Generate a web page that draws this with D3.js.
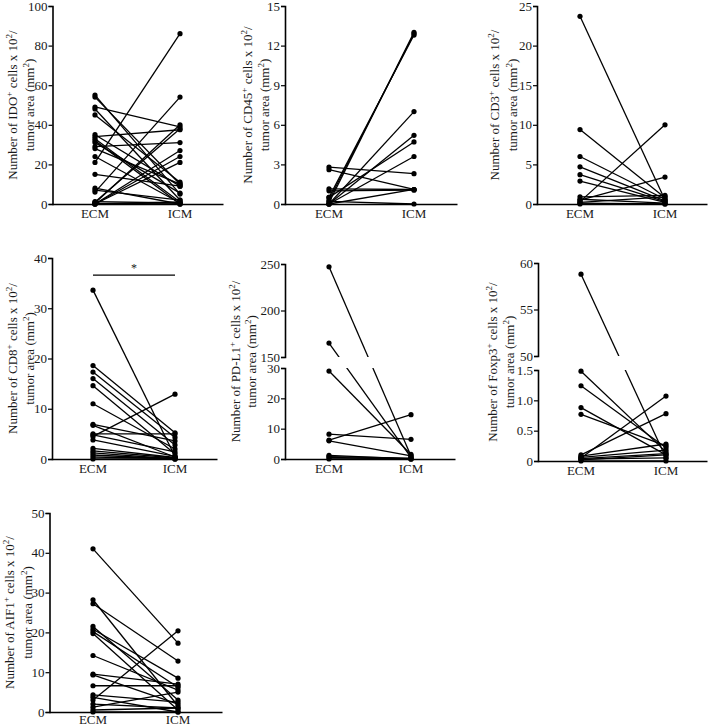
<!DOCTYPE html>
<html><head><meta charset="utf-8">
<script src="https://cdn.jsdelivr.net/npm/d3@7"></script>
<style>
body{margin:0;background:#fff;}
svg{display:block;}
text{font-family:"Liberation Serif","Times New Roman",serif;fill:#1a1a1a;}
</style></head>
<body>
<svg id="chart" width="710" height="727"></svg>
<script>
// ---------------- DATA ----------------
const categories = ["ECM", "ICM"];
const markers = ["IDO", "CD45", "CD3", "CD8", "PD-L1", "Foxp3", "AIF1"];

const idoECM = [55, 54, 49, 48, 45, 35, 34, 33, 32, 31, 29, 28, 24, 21, 15, 8, 7, 6, 1, 0.5, 0, 0, 0, 0, 1.2, 0.3];
const idoICM = [5, 10, 39, 2, 11, 9, 37.5, 1, 0, 5.5, 31, 10, 0.5, 86, 9, 0, 2, 54, 38, 40, 27, 24, 21, 1, 0.5, 0];

const cd45ECM = [0.1, 0.3, 0.5, 0, 0, 0.5, 0, 2.8, 2.6, 1.15, 1.0, 0, 0.2];
const cd45ICM = [13.0, 12.9, 12.8, 7.0, 5.2, 4.7, 3.6, 2.3, 1.1, 1.1, 1.05, 1.1, 0];

const cd3ECM = [23.7, 9.4, 6.0, 4.7, 3.7, 2.9, 0.3, 0.5, 0.9, 0.6, 0.1, 0, 0.2];
const cd3ICM = [0.5, 0.8, 0.6, 0.4, 0.3, 0.2, 10, 3.4, 1.1, 0.1, 0, 0, 0.9];

const cd8ECM = [33.6, 18.6, 17.3, 16, 14.6, 11, 6.9, 6.7, 5, 4.8, 4.5, 3.8, 2.1, 1.6, 1.2, 0.8, 0.4, 0];
const cd8ICM = [0.5, 5.2, 4.3, 2.8, 1, 2, 3.6, 0.4, 5, 1.4, 12.9, 0.5, 0.3, 0.2, 0, 0, 0.1, 0];

const pdl1ECM = [247, 165, 29, 8.2, 6.2, 6, 1.2, 0.5, 0, 0.8];
const pdl1ICM = [1, 0.5, 1.5, 6.5, 14.6, 1, 0, 0, 0, 0.3];

const foxp3ECM = [58.8, 1.48, 1.24, 0.88, 0.77, 0.05, 0.1, 0.08, 0.03, 0, 0.02, 0.06, 0.04];
const foxp3ICM = [0.05, 0.15, 0.22, 0.1, 0.25, 1.07, 0.78, 0.28, 0.05, 0, 0.1, 0.18, 0.12];

const aif1ECM = [41, 28.2, 27.2, 21.5, 20.8, 20.2, 19.7, 14.2, 9.5, 9.3, 6.6, 4.3, 3.7, 3, 2, 1.2, 0.5, 0];
const aif1ICM = [17.3, 1.5, 12.8, 3, 8.5, 6.2, 0.5, 5.5, 7, 2, 6.6, 2.5, 0, 20.4, 1, 5, 1, 0];

const idoTicks = [0, 20, 40, 60, 80, 100];
const cd45Ticks = [0, 3, 6, 9, 12, 15];
const cd3Ticks = [0, 5, 10, 15, 20, 25];
const cd8Ticks = [0, 10, 20, 30, 40];
const pdl1LowTicks = [0, 10, 20, 30];
const pdl1HighTicks = [150, 200, 250];
const foxp3LowTicks = [0, 0.5, 1.0, 1.5];
const foxp3LowLabels = ["0", "0.5", "1.0", "1.5"];
const foxp3HighTicks = [50, 55, 60];
const aif1Ticks = [0, 10, 20, 30, 40, 50];
const significance = "*";

// ---------------- LAYOUT ----------------
const panels = [
  {m:0, ecm:idoECM, icm:idoICM, ax:52.5, top:6, bot:204, xe:95, xi:180, xEnd:223, t1:17, t2:34, low:[0,100], lowTicks:idoTicks},
  {m:1, ecm:cd45ECM, icm:cd45ICM, ax:285, top:6, bot:204, xe:329, xi:414, xEnd:457, t1:252, t2:269, low:[0,15], lowTicks:cd45Ticks},
  {m:2, ecm:cd3ECM, icm:cd3ICM, ax:537, top:6, bot:204, xe:580, xi:665, xEnd:707, t1:499, t2:517, low:[0,25], lowTicks:cd3Ticks},
  {m:3, ecm:cd8ECM, icm:cd8ICM, ax:52, top:258, bot:459, xe:93, xi:175, xEnd:217, t1:17, t2:34, low:[0,40], lowTicks:cd8Ticks, sig:{y:36.6}},
  {m:4, ecm:pdl1ECM, icm:pdl1ICM, ax:285, top:264, bot:459, xe:329, xi:411, xEnd:455, t1:240, t2:256,
    low:[0,30], lowTicks:pdl1LowTicks, lowTop:368, high:[150,250], highTicks:pdl1HighTicks, highBot:357},
  {m:5, ecm:foxp3ECM, icm:foxp3ICM, ax:538, top:263, bot:461, xe:581, xi:666, xEnd:707, t1:497, t2:514,
    low:[0,1.5], lowTicks:foxp3LowTicks, lowLabels:foxp3LowLabels, lowTop:370, high:[50,60], highTicks:foxp3HighTicks, highBot:356},
  {m:6, ecm:aif1ECM, icm:aif1ICM, ax:49.5, top:513, bot:712, xe:93, xi:178, xEnd:222, t1:14, t2:32, low:[0,50], lowTicks:aif1Ticks}
];

const svg = d3.select("#chart");
const FS = 13;

panels.forEach((p, idx) => {
  const g = svg.append("g");
  const x = d3.scalePoint().domain(categories).range([p.xe, p.xi]);
  let yLow, yHigh = null;
  if (p.high) {
    yLow = d3.scaleLinear().domain(p.low).range([p.bot, p.lowTop]);
    yHigh = d3.scaleLinear().domain(p.high).range([p.highBot, p.top]);
  } else {
    yLow = d3.scaleLinear().domain(p.low).range([p.bot, p.top]);
  }
  const y = v => (yHigh && v > p.low[1]) ? yHigh(v) : yLow(v);

  // clip for broken axis
  let clipId = null;
  if (yHigh) {
    clipId = "clip" + idx;
    const cp = svg.append("clipPath").attr("id", clipId);
    cp.append("rect").attr("x", p.ax).attr("y", 0).attr("width", p.xEnd - p.ax + 10).attr("height", p.highBot);
    cp.append("rect").attr("x", p.ax).attr("y", p.lowTop).attr("width", p.xEnd - p.ax + 10).attr("height", 727 - p.lowTop);
  }

  // lines
  const lg = g.append("g");
  if (clipId) lg.attr("clip-path", `url(#${clipId})`);
  lg.selectAll("line").data(p.ecm.map((v, i) => [v, p.icm[i]])).join("line")
    .attr("x1", x(categories[0])).attr("x2", x(categories[1]))
    .attr("y1", d => y(d[0])).attr("y2", d => y(d[1]))
    .attr("stroke", "#000").attr("stroke-width", 1.3);

  // dots
  const dots = [];
  p.ecm.forEach(v => dots.push([categories[0], v]));
  p.icm.forEach(v => dots.push([categories[1], v]));
  g.append("g").selectAll("circle").data(dots).join("circle")
    .attr("cx", d => x(d[0])).attr("cy", d => y(d[1])).attr("r", 2.6).attr("fill", "#000");

  // axes
  const styleAxis = sel => {
    sel.select(".domain").attr("stroke", "#000").attr("stroke-width", 1.6);
    sel.selectAll(".tick line").attr("stroke", "#000").attr("stroke-width", 1.2);
    sel.selectAll(".tick text").attr("font-size", FS).attr("fill", "#1a1a1a")
      .style("font-family", '"Liberation Serif","Times New Roman",serif');
  };
  const axL = d3.axisLeft(yLow).tickValues(p.lowTicks).tickSizeOuter(0).tickSize(4).tickPadding(1);
  if (p.lowLabels) axL.tickFormat((d, i) => p.lowLabels[i]);
  else axL.tickFormat(d3.format("d"));
  g.append("g").attr("transform", `translate(${p.ax},0)`).call(axL).call(styleAxis);
  if (yHigh) {
    const axH = d3.axisLeft(yHigh).tickValues(p.highTicks).tickSizeOuter(0).tickSize(4).tickPadding(1).tickFormat(d3.format("d"));
    g.append("g").attr("transform", `translate(${p.ax},0)`).call(axH).call(styleAxis);
  }
  // x axis
  const axB = d3.axisBottom(d3.scaleLinear().domain([0,1]).range([p.ax - 0.8, p.xEnd])).ticks(0).tickSizeOuter(0);
  g.append("g").attr("transform", `translate(0,${p.bot})`).call(axB)
    .select(".domain").attr("stroke", "#000").attr("stroke-width", 1.6);
  g.selectAll(".cat").data(categories).join("text").attr("class", "cat")
    .attr("x", d => x(d)).attr("y", Math.min(p.bot + 14, 724)).attr("text-anchor", "middle").attr("font-size", FS).text(d => d);

  // significance
  if (p.sig) {
    const sy = yLow(p.sig.y);
    g.append("line").attr("x1", x(categories[0])).attr("x2", x(categories[1]))
      .attr("y1", sy).attr("y2", sy).attr("stroke", "#000").attr("stroke-width", 1.3);
    g.append("text").attr("x", (x(categories[0]) + x(categories[1])) / 2).attr("y", sy - 3)
      .attr("text-anchor", "middle").attr("font-size", 12).text(significance);
  }

  // title
  const cy = (p.top + p.bot) / 2;
  const t1 = g.append("text").attr("transform", `translate(${p.t1},${cy}) rotate(-90)`)
    .attr("text-anchor", "middle").attr("font-size", FS);
  t1.append("tspan").text("Number of " + markers[p.m]);
  t1.append("tspan").attr("dy", -5).attr("font-size", 9).text("+");
  t1.append("tspan").attr("dy", 5).text(" cells x 10");
  t1.append("tspan").attr("dy", -5).attr("font-size", 9).text("2");
  t1.append("tspan").attr("dy", 5).text("/");
  const t2 = g.append("text").attr("transform", `translate(${p.t2},${cy}) rotate(-90)`)
    .attr("text-anchor", "middle").attr("font-size", FS);
  t2.append("tspan").text("tumor area (mm");
  t2.append("tspan").attr("dy", -5).attr("font-size", 9).text("2");
  t2.append("tspan").attr("dy", 5).text(")");
});
</script>
</body></html>
